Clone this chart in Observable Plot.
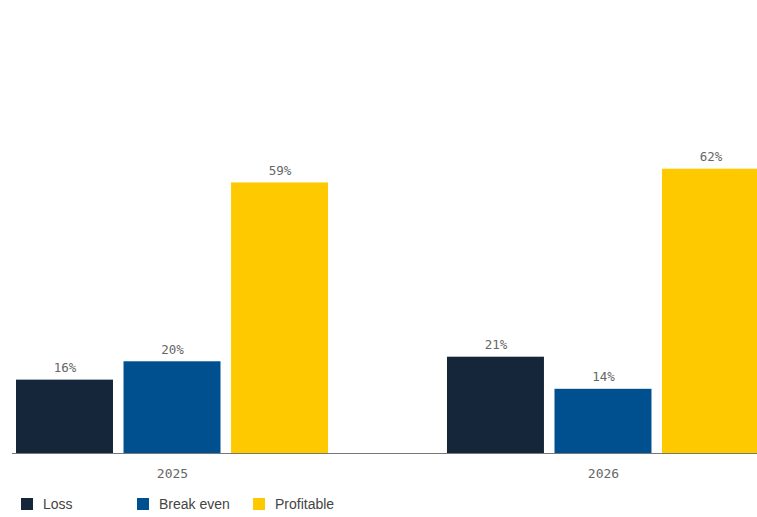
<!DOCTYPE html>
<html><head><meta charset="utf-8">
<script src="https://cdn.jsdelivr.net/npm/d3@7"></script>
<script src="https://cdn.jsdelivr.net/npm/@observablehq/plot@0.6"></script>
<style>
body{margin:0;background:#fff;overflow:hidden;width:757px;height:517px}
#legend{margin-top:14px;padding-left:21px;font-family:"Liberation Sans",Arial,sans-serif;font-size:14px;color:#444;height:20px;line-height:20px;white-space:nowrap}
#legend .item{display:inline-block;width:116px}
#legend .sw{display:inline-block;width:12px;height:12px;vertical-align:-1px;margin-right:10px}
</style></head><body><div id="chart"></div><div id="legend"></div><script>
const years = ["2025", "2026"];
const categories = ["Loss", "Break even", "Profitable"];
const loss = [16, 21];
const breakEven = [20, 14];
const profitable = [59, 62];
const colors = ["#16263a", "#00508f", "#ffc900"];

const series = [loss, breakEven, profitable];
const data = years.flatMap((y, i) => categories.map((c, j) => ({year: y, cat: c, value: series[j][i]})));

const plot = Plot.plot({
  width: 757, height: 480,
  marginLeft: 12, marginRight: 0, marginTop: 132, marginBottom: 27,
  style: {fontFamily: "DejaVu Sans Mono", fontSize: "13px", color: "#666", background: "#fff"},
  fx: {domain: years, range: [16, 759], paddingInner: 0.276, paddingOuter: 0, round: false, label: null},
  x: {domain: categories, paddingInner: 0.098, paddingOuter: 0, round: false, axis: null},
  y: {domain: [0, 70], axis: null},
  color: {domain: categories, range: colors},
  marks: [
    Plot.barY(data, {fx: "year", x: "cat", y: "value", fill: "cat"}),
    Plot.text(data, {fx: "year", x: "cat", y: "value", text: d => d.value + "%", dy: -8, lineAnchor: "bottom", fill: "#666", fontSize: 12.5}),
    Plot.frame({anchor: "bottom", facet: "super", stroke: "#777", strokeWidth: 1, insetLeft: -4}),
    Plot.axisFx({anchor: "bottom", tickSize: 0, tickPadding: 15, label: null, fontSize: 13})
  ]
});
document.getElementById("chart").appendChild(plot);

const legend = document.getElementById("legend");
categories.forEach((c, i) => {
  const it = document.createElement("span");
  it.className = "item";
  const sw = document.createElement("span");
  sw.className = "sw";
  sw.style.background = colors[i];
  it.appendChild(sw);
  it.appendChild(document.createTextNode(c));
  legend.appendChild(it);
});
</script></body></html>
